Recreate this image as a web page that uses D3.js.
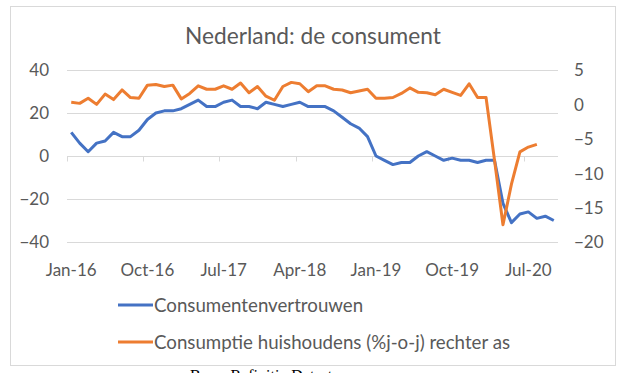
<!DOCTYPE html>
<html>
<head>
<meta charset="utf-8">
<script src="https://cdn.jsdelivr.net/npm/d3@7"></script>
<style>
  body { margin: 0; background: #fff; }
  svg text { font-family: Lato, "Open Sans", sans-serif; fill: #595959; }
</style>
</head>
<body>
<svg id="chart" width="625" height="373"></svg>
<script>
// monthly categories, Jan-16 .. Oct-20
var months = d3.timeMonth.range(new Date(2016, 0, 1), new Date(2020, 10, 1));
var monthLabels = months.map(d3.timeFormat("%b-%y"));

// consumer confidence (left axis)
var vertrouwen = [
    11, 6, 2, 6, 7, 11, 9, 9, 12, 17, 20, 21,
    21, 22, 24, 26, 23, 23, 25, 26, 23, 23, 22, 25,
    24, 23, 24, 25, 23, 23, 23, 21, 18, 15, 13, 9,
    0, -2, -4, -3, -3, 0, 2, 0, -2, -1, -2, -2,
    -3, -2, -2, -22, -31, -27, -26, -29, -28, -30
];

// household consumption %y/y (right axis), up to Aug-20
var consumptie = [
    0.3, 0.15, 0.9, 0.0, 1.5, 0.7, 2.1, 1.0, 0.9, 2.8, 2.9, 2.6,
    2.8, 0.8, 1.6, 2.7, 2.2, 2.2, 2.7, 2.2, 3.1, 1.7, 2.6, 1.2,
    0.6, 2.6, 3.2, 3.0, 1.85, 2.7, 2.7, 2.2, 2.1, 1.7, 1.95, 2.2,
    0.9, 0.9, 1.0, 1.6, 2.4, 1.75, 1.7, 1.4, 2.2, 1.75, 1.3, 3.0,
    1.0, 1.0, -8.1, -17.5, -11.6, -6.9, -6.2, -5.8
];

var leftTicks = [40, 20, 0, -20, -40];
var rightTicks = [5, 0, -5, -10, -15, -20];
var seriesNames = ["Consumentenvertrouwen", "Consumptie huishoudens (%j-o-j) rechter as"];
var seriesColors = ["#4472C4", "#ED7D31"];

var svg = d3.select("#chart");
var plotLeft = 67, plotRight = 558, plotTop = 70, plotBottom = 242;

// chart frame
svg.append("rect")
    .attr("x", 10.5).attr("y", 6.5)
    .attr("width", 605).attr("height", 359)
    .style("fill", "#fff")
    .style("stroke", "#d9d9d9");

svg.append("text")
    .attr("x", 313).attr("y", 44)
    .style("text-anchor", "middle")
    .style("font-size", "22.7px")
    .text("Nederland: de consument");

var x = d3.scaleBand().domain(monthLabels).range([plotLeft, plotRight]);
var yL = d3.scaleLinear().domain([-40, 40]).range([plotBottom, plotTop]);
var yR = d3.scaleLinear().domain([-20, 5]).range([plotBottom, plotTop]);

// gridlines
svg.append("g")
    .selectAll("line")
    .data(leftTicks)
    .enter()
    .append("line")
    .attr("x1", plotLeft).attr("x2", plotRight)
    .attr("y1", function(d) { return Math.round(yL(d)) + 0.5; })
    .attr("y2", function(d) { return Math.round(yL(d)) + 0.5; })
    .style("stroke", "#d9d9d9")
    .style("stroke-width", 1);

// left axis labels
var axL = svg.append("g")
    .attr("transform", "translate(" + (plotLeft - 18) + ",0)")
    .call(d3.axisLeft(yL).tickValues(leftTicks).tickSize(0).tickPadding(0));
axL.select(".domain").remove();
axL.selectAll("text").style("font-size", "17px").style("fill", "#595959").attr("dy", "0.35em");

// right axis labels
var axR = svg.append("g")
    .attr("transform", "translate(" + (plotRight + 16) + ",0)")
    .call(d3.axisRight(yR).tickValues(rightTicks).tickSize(0).tickPadding(0));
axR.select(".domain").remove();
axR.selectAll("text").style("font-size", "17px").style("fill", "#595959").attr("dy", "0.35em");

// x labels, every 9th month
var shown = monthLabels.filter(function(d, i) { return i % 9 == 0; });
var axX = svg.append("g")
    .attr("transform", "translate(0," + (plotBottom + 20) + ")")
    .call(d3.axisBottom(x).tickValues(shown).tickSize(0).tickPadding(0));
axX.select(".domain").remove();
axX.selectAll("text").style("font-size", "17px").style("fill", "#595959").attr("dy", "0.85em");

// tick marks on the zero line, at category boundaries
var zeroY = Math.round(yL(0)) + 0.5;
svg.append("g")
    .selectAll("line")
    .data(shown)
    .enter()
    .append("line")
    .attr("x1", function(d) { return Math.round(x(d)) + 0.5; })
    .attr("x2", function(d) { return Math.round(x(d)) + 0.5; })
    .attr("y1", zeroY).attr("y2", zeroY + 5)
    .style("stroke", "#d9d9d9");

// lines
var lineL = d3.line()
    .x(function(d, i) { return x(monthLabels[i]) + x.bandwidth() / 2; })
    .y(function(d) { return yL(d); });
var lineR = d3.line()
    .x(function(d, i) { return x(monthLabels[i]) + x.bandwidth() / 2; })
    .y(function(d) { return yR(d); });

svg.append("path")
    .datum(vertrouwen)
    .attr("d", lineL)
    .style("fill", "none")
    .style("stroke", seriesColors[0])
    .style("stroke-width", 3)
    .style("stroke-linejoin", "round");

svg.append("path")
    .datum(consumptie)
    .attr("d", lineR)
    .style("fill", "none")
    .style("stroke", seriesColors[1])
    .style("stroke-width", 3)
    .style("stroke-linejoin", "round");

// legend
var legend = svg.append("g")
    .selectAll("g")
    .data(seriesNames)
    .enter()
    .append("g")
    .attr("transform", function(d, i) { return "translate(118," + (305 + i * 37) + ")"; });
legend.append("line")
    .attr("x1", 0).attr("x2", 35)
    .style("stroke", function(d, i) { return seriesColors[i]; })
    .style("stroke-width", 3);
legend.append("text")
    .attr("x", 36).attr("dy", "0.35em")
    .style("font-size", "18.7px")
    .text(function(d) { return d; });

// source line, cut off by the bottom edge
svg.append("text")
    .attr("x", 190).attr("y", 381)
    .style("font-family", "'Liberation Serif', serif")
    .style("font-size", "16px")
    .style("fill", "#000")
    .text("Bron: Refinitiv Datastream");
</script>
</body>
</html>
